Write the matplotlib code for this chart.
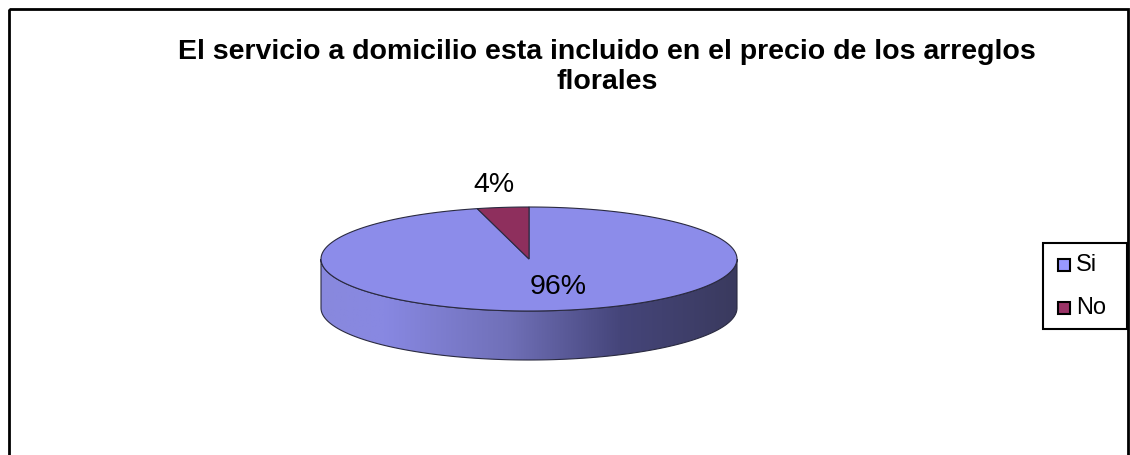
import numpy as np
import matplotlib
matplotlib.use("Agg")
import matplotlib.pyplot as plt
from matplotlib.patches import Polygon, Rectangle
from matplotlib.colors import LinearSegmentedColormap

plt.rcParams["font.family"] = ["Liberation Sans", "DejaVu Sans"]

title = "El servicio a domicilio esta incluido en el precio de los arreglos\nflorales"
labels = ["Si", "No"]
values = [96, 4]
top_colors = ["#8C8CEA", "#8E2F5D"]
legend_colors = ["#9999FF", "#993366"]

# pie geometry in pixel space
cx, cy = 529, 259
rx, ry = 208, 52
depth = 49
start = 90.0


def arc(t0, t1, dy=0, n=200):
    t = np.radians(np.linspace(t0, t1, n))
    return np.column_stack([cx + rx * np.cos(t), cy - ry * np.sin(t) + dy])


fig = plt.figure(figsize=(11.3, 4.55), dpi=100)
ax = fig.add_axes([0, 0, 1, 1])
ax.set_xlim(0, 1130)
ax.set_ylim(455, 0)
ax.axis("off")

# outer frame
ax.add_patch(Rectangle((9, 9), 1119, 470, fill=False, ec="black", lw=2))

# side wall of the disc (front half), shaded left to right
side = np.vstack([arc(180, 360), arc(360, 180, dy=depth)])
side_poly = Polygon(side, closed=True, fc="none", ec="#2a2a40", lw=0.8, zorder=2)
ax.add_patch(side_poly)
cmap = LinearSegmentedColormap.from_list(
    "side", [(0, "#8888DD"), (0.15, "#8888E2"), (0.45, "#7070B8"),
             (0.72, "#45457A"), (1, "#3A3A5E")])
grad = np.linspace(0, 1, 256).reshape(1, -1)
im = ax.imshow(grad, cmap=cmap, extent=(cx - rx, cx + rx, cy + ry + depth, cy),
               aspect="auto", zorder=1)
im.set_clip_path(side_poly)
ax.set_xlim(0, 1130)
ax.set_ylim(455, 0)

# top face: slices going counter-clockwise from 12 o'clock, last slice first
fracs = np.array(values) / sum(values)
angle = start
spans = []
for f in fracs[::-1]:
    spans.append((angle, angle + 360 * f))
    angle += 360 * f
spans = spans[::-1]
for (t0, t1), col in zip(spans, top_colors):
    pts = np.vstack([[cx, cy], arc(t0, t1), [cx, cy]])
    ax.add_patch(Polygon(pts, closed=True, fc=col, ec="#2a2a40", lw=0.8, zorder=3))

# percentage labels
ax.text(558, 287, f"{values[0]}%", fontsize=20.5, ha="center", va="center", zorder=4)
ax.text(494, 185, f"{values[1]}%", fontsize=20.5, ha="center", va="center", zorder=4)

ax.text(607, 67, title, fontsize=20.5, fontweight="bold", ha="center", va="center",
        linespacing=1.22)

# legend
ax.add_patch(Rectangle((1043, 243), 84, 86, fill=False, ec="black", lw=1.5))
for i, (lab, col) in enumerate(zip(labels, legend_colors)):
    y = 265 + i * 43
    ax.add_patch(Rectangle((1058, y - 6), 12, 12, fc=col, ec="black", lw=1.5))
    ax.text(1076, y, lab, fontsize=17, ha="left", va="center")

fig.savefig("out.png", dpi=100)
